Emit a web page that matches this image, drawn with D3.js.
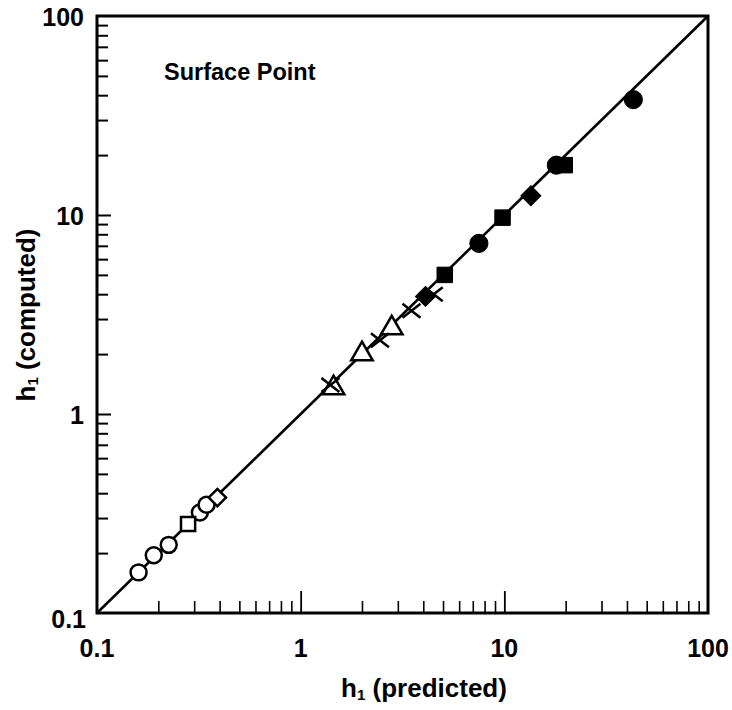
<!DOCTYPE html>
<html><head><meta charset="utf-8">
<script src="https://cdn.jsdelivr.net/npm/d3@7"></script>
<style>body{margin:0;background:#fff}svg{display:block}text{font-family:"Liberation Sans",Arial,sans-serif;font-weight:bold;fill:#000}</style>
</head><body><svg id="c" width="732" height="710"></svg>
<script>
const xTickLabels = ["0.1","1","10","100"];
const yTickLabels = ["0.1","1","10","100"];
const majorTicks = [0.1, 1, 10, 100];
const openCircleX = [0.16, 0.19, 0.225, 0.32, 0.345];
const openCircleY = [0.16, 0.195, 0.22, 0.32, 0.35];
const openSquareX = [0.28];
const openSquareY = [0.28];
const openDiamondX = [0.39];
const openDiamondY = [0.38];
const triangleX = [1.45, 2.0, 2.8];
const triangleY = [1.35, 2.0, 2.7];
const crossX = [1.4, 2.45, 3.5, 4.5];
const crossY = [1.4, 2.35, 3.3, 4.0];
const filledDiamondX = [4.1, 13.5];
const filledDiamondY = [3.9, 12.5];
const filledSquareX = [5.1, 9.8, 19.8];
const filledSquareY = [5.0, 9.7, 17.8];
const filledCircleX = [7.5, 18.0, 43];
const filledCircleY = [7.2, 17.8, 38];

const svg = d3.select("#c");
const L = 97, T = 16, R = 708, B = 613;
const x = d3.scaleLog().domain([0.1, 100]).range([L, R]);
const y = d3.scaleLog().domain([0.1, 100]).range([B, T]);

const minor = [];
for (let d = 0.1; d < 100; d *= 10) for (let k = 2; k <= 9; k++) minor.push(+(d * k).toPrecision(3));

const xb = d3.axisTop(x).tickValues(minor).tickSize(12).tickFormat("");
svg.append("g").attr("transform", `translate(0,${B})`).call(xb)
  .call(g => g.select(".domain").remove())
  .call(g => g.selectAll("line").attr("stroke", "#000").attr("stroke-width", 1.6));
const xbMaj = d3.axisTop(x).tickValues([1, 10]).tickSize(22).tickFormat("");
svg.append("g").attr("transform", `translate(0,${B})`).call(xbMaj)
  .call(g => g.select(".domain").remove())
  .call(g => g.selectAll("line").attr("stroke", "#000").attr("stroke-width", 1.8));
const yl = d3.axisRight(y).tickValues(minor).tickSize(11).tickFormat("");
svg.append("g").attr("transform", `translate(${L},0)`).call(yl)
  .call(g => g.select(".domain").remove())
  .call(g => g.selectAll("line").attr("stroke", "#000").attr("stroke-width", 2));
const ylMaj = d3.axisRight(y).tickValues([1, 10]).tickSize(14).tickFormat("");
svg.append("g").attr("transform", `translate(${L},0)`).call(ylMaj)
  .call(g => g.select(".domain").remove())
  .call(g => g.selectAll("line").attr("stroke", "#000").attr("stroke-width", 2));

svg.append("rect").attr("x", L).attr("y", T).attr("width", R - L).attr("height", B - T)
  .attr("fill", "none").attr("stroke", "#000").attr("stroke-width", 3);

svg.append("g").selectAll("text").data(majorTicks).join("text")
  .attr("x", d => x(d)).attr("y", 657).attr("text-anchor", "middle")
  .attr("font-size", 25).text((d, i) => xTickLabels[i]);
svg.append("g").selectAll("text").data(majorTicks).join("text")
  .attr("x", d => d === 0.1 ? 86 : 84).attr("y", d => y(d) + (d === 0.1 ? 15 : 10)).attr("text-anchor", "end")
  .attr("font-size", 25).text((d, i) => yTickLabels[i]);

svg.append("line").attr("x1", x(0.1)).attr("y1", y(0.1)).attr("x2", x(100)).attr("y2", y(100))
  .attr("stroke", "#000").attr("stroke-width", 2.6);

const zip = (a, b) => a.map((v, i) => [v, b[i]]);
function sym(data, type, size, filled, rot) {
  svg.append("g").selectAll("path").data(data).join("path")
    .attr("transform", d => `translate(${x(d[0])},${y(d[1])})` + (rot ? ` rotate(${rot})` : ""))
    .attr("d", d3.symbol().type(type).size(size))
    .attr("fill", filled ? "#000" : "#fff").attr("stroke", "#000").attr("stroke-width", filled ? 1 : 2.5);
}
sym(zip(openCircleX, openCircleY), d3.symbolCircle, 200, false);
sym(zip(openSquareX, openSquareY), d3.symbolSquare, 200, false);
sym(zip(openDiamondX, openDiamondY), d3.symbolSquare, 150, false, 45);
sym(zip(triangleX, triangleY), d3.symbolTriangle, 200, false);
sym(zip(filledDiamondX, filledDiamondY), d3.symbolSquare, 200, true, 45);
sym(zip(filledSquareX, filledSquareY), d3.symbolSquare, 240, true);
sym(zip(filledCircleX, filledCircleY), d3.symbolCircle, 260, true);
svg.append("g").selectAll("path").data(zip(crossX, crossY)).join("path")
  .attr("transform", d => `translate(${x(d[0])},${y(d[1])})`)
  .attr("d", "M-9,-7L9,7M-9,7L9,-7").attr("stroke", "#000").attr("stroke-width", 2.6).attr("fill", "none");

svg.append("text").attr("x", 164).attr("y", 80).attr("font-size", 23.5).text("Surface Point");

const xl = svg.append("text").attr("x", 424).attr("y", 697).attr("text-anchor", "middle").attr("font-size", 26);
xl.append("tspan").text("h");
xl.append("tspan").attr("font-size", 15).attr("dy", 3).text("1");
xl.append("tspan").attr("dy", -3).text(" (predicted)");
const ylab = svg.append("text").attr("transform", "translate(35,315) rotate(-90)").attr("text-anchor", "middle").attr("font-size", 26);
ylab.append("tspan").text("h");
ylab.append("tspan").attr("font-size", 15).attr("dy", 3).text("1");
ylab.append("tspan").attr("dy", -3).text(" (computed)");
</script></body></html>
